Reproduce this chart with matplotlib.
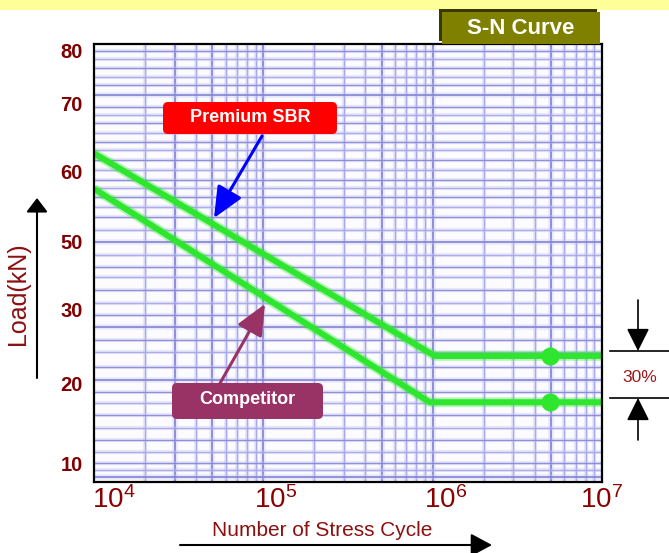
import numpy as np
import matplotlib
matplotlib.use('Agg')
import matplotlib.pyplot as plt
import matplotlib.transforms as mtransforms
from matplotlib.patches import FancyBboxPatch, Rectangle, FancyArrowPatch
from matplotlib.lines import Line2D
from matplotlib.ticker import NullLocator

# ---------------- data ----------------
premium_cycles = [1e4, 1.03e6, 1e7]
premium_load = [62.7, 23.7, 23.7]
competitor_cycles = [1e4, 0.96e6, 1e7]
competitor_load = [57.6, 17.6, 17.6]
marker_cycles = [4.9e6]
premium_marker_load = [23.7]
competitor_marker_load = [17.6]

y_tick_values = [10, 20, 30, 50, 60, 70, 80]
y_tick_labels = ['10', '20', '30', '50', '60', '70', '80']
x_tick_values = [1e4, 1e5, 1e6, 1e7]
x_tick_labels = [r'$\mathregular{10^{4}}$', r'$\mathregular{10^{5}}$',
                 r'$\mathregular{10^{6}}$', r'$\mathregular{10^{7}}$']

# non-uniform load axis as drawn in the picture (value -> axis fraction)
y_knot_values = [0, 10, 20, 30, 50, 60, 70, 80, 90]
y_knot_fracs = [-0.14, 0.043, 0.226, 0.393, 0.548, 0.708, 0.865, 0.986, 1.107]

plt.rcParams['mathtext.fontset'] = 'custom'
plt.rcParams['mathtext.rm'] = 'Liberation Sans'
plt.rcParams['font.family'] = ['Liberation Sans', 'DejaVu Sans']

W, H = 669, 553
fig = plt.figure(figsize=(W / 100, H / 100), dpi=100)
fig.patch.set_facecolor('white')
ID = mtransforms.IdentityTransform()


def px(x, y):
    """image pixel (top-left origin) -> display pixel"""
    return (x, H - y)


# top yellow band
fig.add_artist(Rectangle((0, H - 10), W, 10, transform=ID, facecolor='#ffff99',
                         edgecolor='none', zorder=0))

L, R, T, B = 94, 602, 44, 482
ax = fig.add_axes([L / W, 1 - B / H, (R - L) / W, (B - T) / H])
ax.set_facecolor('#fcfcff')


def fwd(v):
    return np.interp(v, y_knot_values, y_knot_fracs)


def inv(f):
    return np.interp(f, y_knot_fracs, y_knot_values)


ax.set_xscale('log')
ax.set_yscale('function', functions=(fwd, inv))
ax.set_xlim(1e4, 1e7)
ax.set_ylim(float(inv(0.0)), float(inv(1.0)))

# ---------------- grid ----------------
band_col = '#c4c4f4'
for d in (4, 5, 6):
    for k in range(1, 10):
        xv = k * 10 ** d
        if xv == 1e4:
            continue
        strong = k in (1, 5) or (d == 4 and k == 3)
        ax.axvline(xv, color=band_col, lw=4.0 if strong else 3.0, alpha=0.35, zorder=1)
        ax.axvline(xv, color='#8484d8' if strong else '#a2a2e8',
                   lw=1.4 if strong else 1.0, alpha=0.9, zorder=1)

h_rows = [51, 59, 68, 77, 85, 95, 107, 115, 123, 133, 142, 150, 160, 170, 180,
          188, 197, 207, 217, 230, 242, 255, 267, 277, 290, 303, 315, 327, 340,
          352, 367, 380, 392, 403, 415, 428, 440, 452, 463, 470, 477]
strong_rows = {95, 242, 327, 380, 477}
for i, yr in enumerate(h_rows):
    f = (B - yr) / (B - T)
    strong = yr in strong_rows
    ax.plot([0, 1], [f, f], transform=ax.transAxes, color=band_col,
            lw=4.0 if strong else 3.0, alpha=0.35, zorder=1, solid_capstyle='butt')
    ax.plot([0, 1], [f, f], transform=ax.transAxes,
            color='#8282d2' if (strong or i % 2 == 0) else '#a2a2e8',
            lw=1.4 if strong else 1.0, alpha=0.85, zorder=1, solid_capstyle='butt')

# ---------------- curves ----------------
green = '#2ee62e'
for cx, cy, my in ((premium_cycles, premium_load, premium_marker_load),
                   (competitor_cycles, competitor_load, competitor_marker_load)):
    ax.plot(cx, cy, color=green, lw=7, alpha=0.35, zorder=3, solid_capstyle='butt')
    ax.plot(cx, cy, color=green, lw=4.3, zorder=4, solid_capstyle='butt')
    ax.plot(marker_cycles, my, 'o', color=green, ms=12, zorder=5)

# ---------------- axes styling ----------------
ax.set_xticks(x_tick_values)
ax.set_xticklabels(x_tick_labels)
ax.xaxis.set_minor_locator(NullLocator())
ax.set_yticks(y_tick_values)
ax.set_yticklabels(y_tick_labels)
ax.yaxis.set_minor_locator(NullLocator())
ax.tick_params(axis='both', length=0)
ax.tick_params(axis='y', pad=8, labelsize=14.5, labelcolor='#800000')
ax.tick_params(axis='x', pad=3, labelsize=20, labelcolor='#8b0000')
for lab in ax.get_yticklabels():
    lab.set_fontweight('bold')
x_offsets = [14, 9, 9, 0]
for lab, dx in zip(ax.get_xticklabels(), x_offsets):
    lab.set_transform(lab.get_transform() +
                      mtransforms.ScaledTranslation(dx / 72, 0, fig.dpi_scale_trans))
for sp in ax.spines.values():
    sp.set_color('black')
    sp.set_linewidth(1.6)
    sp.set_zorder(6)

# ---------------- labels & arrows ----------------
dark_red = '#8b1010'
fig.text(18 / W, 1 - 294 / H, 'Load(kN)', rotation=90, ha='center', va='center',
         fontsize=18, color=dark_red)
fig.text(322 / W, 1 - 530 / H, 'Number of Stress Cycle', ha='center', va='center',
         fontsize=15, color=dark_red)


def arrow(p0, p1, color, lw, hl, hw, ms=10):
    a = FancyArrowPatch(px(*p0), px(*p1), transform=ID,
                        arrowstyle=f'-|>,head_length={hl},head_width={hw}',
                        mutation_scale=ms, color=color, lw=lw, shrinkA=0, shrinkB=0,
                        zorder=8)
    fig.add_artist(a)


arrow((37, 378), (37, 198), 'black', 1.5, 0.85, 0.65)
arrow((180, 545), (492, 545), 'black', 1.5, 1.3, 0.7)
arrow((638, 300), (638, 351), 'black', 1.2, 1.4, 0.7)
arrow((638, 440), (638, 398), 'black', 1.2, 1.4, 0.7)
for yy in (351, 398):
    fig.add_artist(Line2D([610, 669], [H - yy, H - yy], transform=ID, color='black',
                          lw=1.2, zorder=8))
fig.text(640 / W, 1 - 378 / H, '30%', ha='center', va='center', fontsize=12.5,
         color='#9b1818')

# Premium SBR label
fig.add_artist(FancyBboxPatch(px(163, 134), 174, 32, transform=ID,
                              boxstyle='round,pad=0,rounding_size=5',
                              facecolor='#ff0000', edgecolor='none', zorder=7))
fig.text(250 / W, 1 - 118 / H, 'Premium SBR', ha='center', va='center',
         fontsize=13, fontweight='bold', color='white', zorder=9)
arrow((262, 136), (214, 218), '#0000ff', 2.2, 1.9, 0.85)

# Competitor label
fig.add_artist(FancyBboxPatch(px(172, 419), 151, 36, transform=ID,
                              boxstyle='round,pad=0,rounding_size=5',
                              facecolor='#993366', edgecolor='none', zorder=7))
fig.text(247 / W, 1 - 400 / H, 'Competitor', ha='center', va='center',
         fontsize=13, fontweight='bold', color='white', zorder=9)
arrow((219, 385), (265, 304), '#993366', 2.2, 1.9, 0.85)

# S-N Curve title box
fig.add_artist(Rectangle(px(439, 41), 158, 32, transform=ID, facecolor='#3a3a00',
                         edgecolor='none', zorder=7))
fig.add_artist(Rectangle(px(442, 44), 158, 32, transform=ID, facecolor='#808000',
                         edgecolor='none', zorder=7))
fig.text(521 / W, 1 - 29 / H, 'S-N Curve', ha='center', va='center', fontsize=16,
         fontweight='bold', color='white', zorder=9)

fig.savefig('out.png', dpi=100)
